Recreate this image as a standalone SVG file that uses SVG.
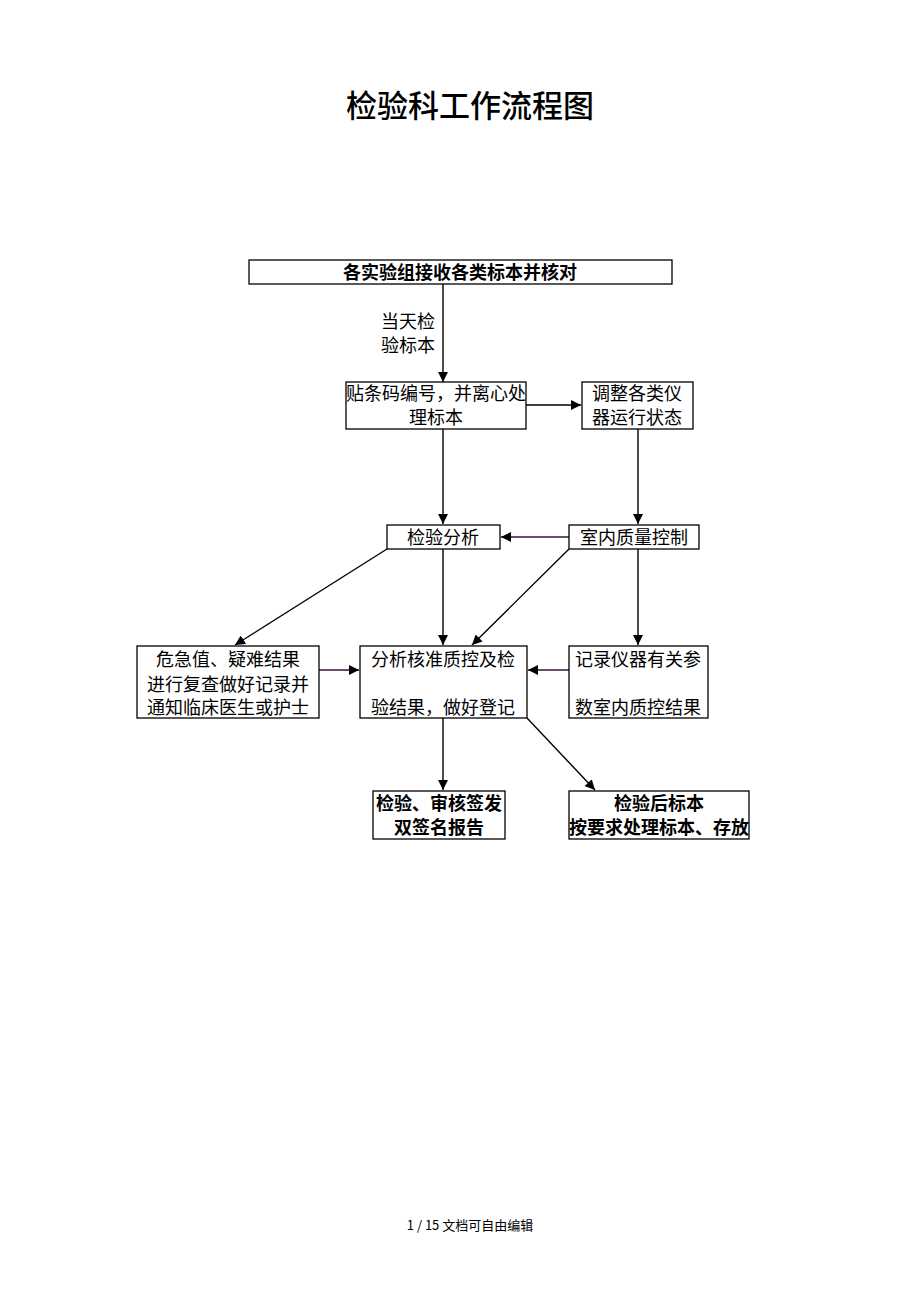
<svg xmlns="http://www.w3.org/2000/svg" width="920" height="1302" viewBox="0 0 920 1302">
<defs>
<style>
.box{fill:#fff;stroke:#000;stroke-width:1.3}
.t{font-family:"Liberation Serif","Noto Sans CJK SC",serif;font-size:18px;fill:#000;text-anchor:middle}
.b{font-family:"Liberation Sans","Noto Sans CJK SC",sans-serif;font-size:18px;font-weight:bold;fill:#000;text-anchor:middle}
.c{stroke:#000;stroke-width:1.4;fill:none;marker-end:url(#ah)}
.p{stroke:#3a1038}
</style>
<marker id="ah" viewBox="0 0 10 10" refX="10" refY="5" markerWidth="10" markerHeight="10" markerUnits="userSpaceOnUse" orient="auto">
<path d="M0,0 L10,5 L0,10 z" fill="#000"/>
</marker>
</defs>
<rect width="920" height="1302" fill="#fff"/>
<text x="470" y="117" font-family="Noto Sans CJK SC, sans-serif" font-size="31" font-weight="500" text-anchor="middle" fill="#000">检验科工作流程图</text>

<g id="connectors">
<line class="c" x1="443" y1="284" x2="443" y2="382"/>
<line class="c" x1="526" y1="405" x2="581" y2="405"/>
<line class="c" x1="443" y1="429" x2="443" y2="524"/>
<line class="c" x1="638" y1="429" x2="638" y2="524"/>
<line class="c p" x1="569" y1="537" x2="501" y2="537"/>
<line class="c" x1="387" y1="549" x2="235" y2="645"/>
<line class="c" x1="443" y1="549" x2="443" y2="645"/>
<line class="c" x1="569" y1="549" x2="472" y2="645"/>
<line class="c" x1="638" y1="549" x2="638" y2="645"/>
<line class="c p" x1="319" y1="670" x2="359" y2="670"/>
<line class="c p" x1="569" y1="670" x2="528" y2="670"/>
<line class="c" x1="443" y1="718" x2="443" y2="790"/>
<line class="c" x1="527" y1="718" x2="595" y2="790"/>
<text class="t" x="408" y="328">当天检</text>
<text class="t" x="408" y="352">验标本</text>
</g>

<g id="n1"><rect class="box" x="249" y="260" width="423" height="24"/><text class="b" x="460" y="279">各实验组接收各类标本并核对</text></g>
<g id="n2"><rect class="box" x="346" y="382" width="180" height="47"/><text class="t" x="436" y="400">贴条码编号，并离心处</text><text class="t" x="436" y="424">理标本</text></g>
<g id="n3"><rect class="box" x="582" y="382" width="111" height="47"/><text class="t" x="637" y="400">调整各类仪</text><text class="t" x="637" y="424">器运行状态</text></g>
<g id="n4"><rect class="box" x="387" y="525" width="113" height="24"/><text class="t" x="443" y="544">检验分析</text></g>
<g id="n5"><rect class="box" x="569" y="525" width="130" height="24"/><text class="t" x="634" y="544">室内质量控制</text></g>
<g id="n6"><rect class="box" x="137" y="646" width="182" height="72"/><text class="t" x="228" y="666">危急值、疑难结果</text><text class="t" x="228" y="691">进行复查做好记录并</text><text class="t" x="228" y="714">通知临床医生或护士</text></g>
<g id="n7"><rect class="box" x="360" y="646" width="167" height="72"/><text class="t" x="443" y="666">分析核准质控及检</text><text class="t" x="443" y="714">验结果，做好登记</text></g>
<g id="n8"><rect class="box" x="569" y="646" width="139" height="72"/><text class="t" x="638" y="666">记录仪器有关参</text><text class="t" x="638" y="714">数室内质控结果</text></g>
<g id="n9"><rect class="box" x="373" y="791" width="132" height="48"/><text class="b" x="439" y="810">检验、审核签发</text><text class="b" x="439" y="834">双签名报告</text></g>
<g id="n10"><rect class="box" x="569" y="791" width="180" height="48"/><text class="b" x="659" y="810">检验后标本</text><text class="b" x="659" y="834">按要求处理标本、存放</text></g>

<text x="470" y="1230" font-family="Noto Sans CJK SC, sans-serif" font-size="13" text-anchor="middle" fill="#000">1 / 15 文档可自由编辑</text>
</svg>
